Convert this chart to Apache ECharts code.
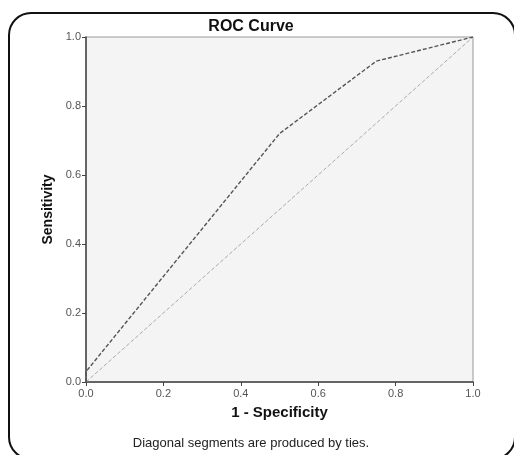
<!DOCTYPE html>
<html>
<head>
<meta charset="utf-8">
<script src="https://cdn.jsdelivr.net/npm/echarts@6/dist/echarts.min.js"></script>
<style>
  html, body { margin: 0; padding: 0; background: #fff; }
  #chart { width: 514px; height: 455px; }
</style>
</head>
<body>
<div id="chart"></div>
<script>
// ROC points: [1 - specificity, sensitivity]
const rocX = [0.0, 0.0, 0.5, 0.75, 1.0];
const rocY = [0.0, 0.03, 0.72, 0.93, 1.0];
const refX = [0.0, 1.0];
const refY = [0.0, 1.0];

const font = 'Liberation Sans, Arial, sans-serif';

let myChart = echarts.init(document.getElementById('chart'));
myChart.setOption({
  animation: false,
  graphic: [
    {
      type: 'rect',
      shape: { x: 9, y: 13, width: 506, height: 446, r: 22 },
      style: { fill: 'none', stroke: '#111', lineWidth: 2 },
      z: 100
    },
    {
      type: 'text',
      x: 251,
      y: 27,
      style: {
        text: 'ROC Curve',
        font: 'bold 16px ' + font, fill: '#111',
        textAlign: 'center', textVerticalAlign: 'middle'
      }
    },
    {
      type: 'text',
      x: 251,
      y: 443,
      style: {
        text: 'Diagonal segments are produced by ties.',
        font: '13px ' + font, fill: '#222',
        textAlign: 'center', textVerticalAlign: 'middle'
      }
    }
  ],
  grid: {
    left: 86, right: 41, top: 37, bottom: 73,
    show: true,
    backgroundColor: '#f4f4f4',
    borderColor: '#999',
    borderWidth: 1
  },
  xAxis: {
    type: 'value',
    min: 0, max: 1, interval: 0.2,
    name: '1 - Specificity',
    nameLocation: 'middle',
    nameGap: 23,
    nameTextStyle: { fontFamily: font, fontSize: 15, fontWeight: 'bold', color: '#111' },
    axisLine: { show: true, lineStyle: { color: '#444', width: 1.5 } },
    axisTick: { show: true, inside: false, length: 4, lineStyle: { color: '#444' } },
    axisLabel: {
      fontFamily: font, fontSize: 11, color: '#555', margin: 6,
      formatter: v => v.toFixed(1)
    },
    splitLine: { show: false }
  },
  yAxis: {
    type: 'value',
    min: 0, max: 1, interval: 0.2,
    name: 'Sensitivity',
    nameLocation: 'middle',
    nameGap: 29,
    nameTextStyle: { fontFamily: font, fontSize: 14, fontWeight: 'bold', color: '#111' },
    axisLine: { show: true, lineStyle: { color: '#444', width: 1.5 } },
    axisTick: { show: true, inside: false, length: 4, lineStyle: { color: '#444' } },
    axisLabel: {
      fontFamily: font, fontSize: 11, color: '#555', margin: 5,
      formatter: v => v.toFixed(1)
    },
    splitLine: { show: false }
  },
  series: [
    {
      name: 'Reference',
      type: 'line',
      data: refX.map((x, i) => [x, refY[i]]),
      showSymbol: false,
      symbol: 'none',
      lineStyle: { color: '#aaa', width: 1, type: [4, 2] }
    },
    {
      name: 'ROC',
      type: 'line',
      data: rocX.map((x, i) => [x, rocY[i]]),
      showSymbol: false,
      symbol: 'none',
      lineStyle: { color: '#555', width: 1.4, type: [4, 2] }
    }
  ]
});
</script>
</body>
</html>
